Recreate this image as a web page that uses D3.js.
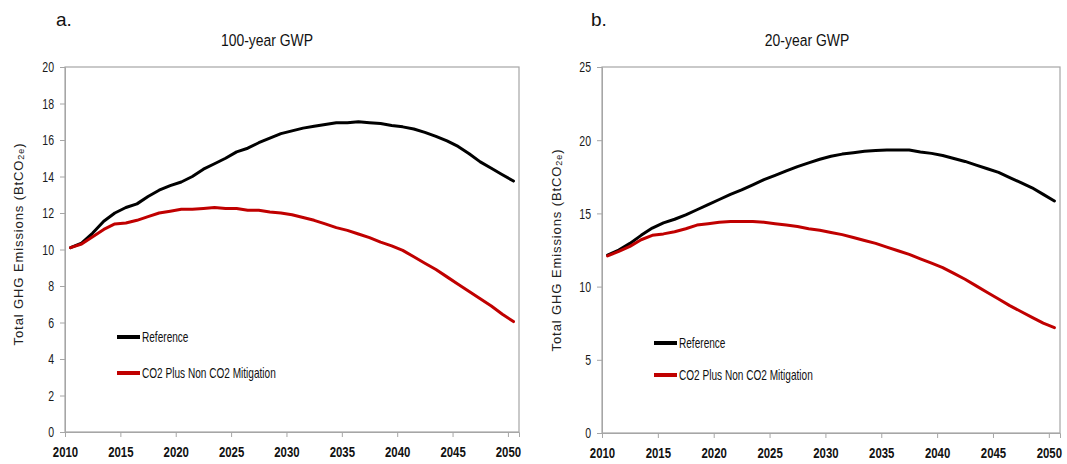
<!DOCTYPE html>
<html>
<head>
<meta charset="utf-8">
<script src="https://cdn.jsdelivr.net/npm/d3@7"></script>
<style>
  body { margin: 0; background: #fff; }
  svg { display: block; }
  text { font-family: "Liberation Sans", Arial, sans-serif; }
</style>
</head>
<body>
<script>
const W = 1067, H = 464

// years 2010..2050
const years = d3.range(2010, 2051)

// panel a: 100-year GWP
const refA = [10.1, 10.35, 10.9, 11.55, 12.0, 12.3, 12.5, 12.9, 13.25, 13.5,
  13.7, 14.0, 14.4, 14.7, 15.0, 15.35, 15.55, 15.85, 16.1, 16.35,
  16.5, 16.65, 16.75, 16.85, 16.95, 16.95, 17.0, 16.95, 16.9, 16.8,
  16.72, 16.6, 16.42, 16.2, 15.95, 15.65, 15.25, 14.8, 14.45, 14.1, 13.75]
const mitA = [10.1, 10.3, 10.7, 11.1, 11.4, 11.45, 11.6, 11.8, 12.0, 12.1,
  12.2, 12.2, 12.25, 12.3, 12.25, 12.25, 12.15, 12.15, 12.05, 12.0,
  11.9, 11.75, 11.6, 11.4, 11.2, 11.05, 10.85, 10.65, 10.4, 10.2,
  9.95, 9.6, 9.25, 8.9, 8.5, 8.1, 7.7, 7.3, 6.9, 6.45, 6.05]

// panel b: 20-year GWP
const refB = [12.15, 12.5, 12.95, 13.5, 14.0, 14.35, 14.6, 14.9, 15.25, 15.6,
  15.95, 16.3, 16.6, 16.95, 17.3, 17.6, 17.9, 18.2, 18.45, 18.7,
  18.9, 19.05, 19.15, 19.25, 19.3, 19.33, 19.33, 19.33, 19.2, 19.1,
  18.95, 18.75, 18.55, 18.3, 18.05, 17.8, 17.45, 17.1, 16.75, 16.3, 15.85]
const mitB = [12.1, 12.4, 12.75, 13.2, 13.5, 13.6, 13.75, 13.95, 14.2, 14.3,
  14.4, 14.45, 14.45, 14.45, 14.4, 14.3, 14.2, 14.1, 13.95, 13.85,
  13.7, 13.55, 13.35, 13.15, 12.95, 12.7, 12.45, 12.2, 11.9, 11.6,
  11.3, 10.9, 10.5, 10.05, 9.6, 9.15, 8.7, 8.3, 7.9, 7.5, 7.2]

const xTicks = [2010, 2015, 2020, 2025, 2030, 2035, 2040, 2045, 2050]
const yTicksA = [0, 2, 4, 6, 8, 10, 12, 14, 16, 18, 20]
const yTicksB = [0, 5, 10, 15, 20, 25]
const seriesNames = ["Reference", "CO2 Plus Non CO2 Mitigation"]
const colors = ["#000000", "#c00000"]

const svg = d3.select("body").append("svg").attr("width", W).attr("height", H)

// squeezed text, the original font is a narrow one
function sqText(g, x, y, sx, txt) {
  return g.append("text")
    .attr("transform", `translate(${x},${y}) scale(${sx},1)`)
    .text(txt)
}

function panel(o) {
  const g = svg.append("g")
  const x = d3.scaleLinear().domain([2010, 2051]).range([o.left, o.right])
  const y = d3.scaleLinear().domain([0, o.ymax]).range([o.bottom, o.top])

  // frame
  g.append("rect")
    .attr("x", o.left).attr("y", o.top)
    .attr("width", o.right - o.left).attr("height", o.bottom - o.top)
    .attr("fill", "none").attr("stroke", "#a6a6a6").attr("stroke-width", 1.2)

  const ya = g.append("g").attr("transform", `translate(${o.left},0)`)
    .call(d3.axisLeft(y).tickValues(o.yTicks).tickSize(5).tickPadding(6))
  ya.select(".domain").attr("stroke", "#a6a6a6")
  ya.selectAll(".tick line").attr("stroke", "#a6a6a6")
  ya.selectAll("text")
    .attr("font-family", "Liberation Sans, Arial, sans-serif")
    .attr("font-size", 15.5).attr("fill", "#1a1a1a")
    .attr("x", -11 / 0.68).attr("transform", "scale(0.68,1)")

  const xa = g.append("g").attr("transform", `translate(0,${o.bottom})`)
    .call(d3.axisBottom(x).tickValues(xTicks).tickFormat(d3.format("d")).tickSize(5).tickPadding(9))
  xa.select(".domain").attr("stroke", "#a6a6a6")
  xa.selectAll(".tick line").attr("stroke", "#a6a6a6")
  xa.selectAll("text")
    .attr("font-family", "Liberation Sans, Arial, sans-serif")
    .attr("font-size", 15).attr("font-weight", "bold").attr("fill", "#111")
    .attr("transform", "scale(0.76,1)")

  const line = d3.line().x((d, i) => x(years[i] + 0.5)).y(d => y(d))
  ;[o.ref, o.mit].forEach((s, k) => {
    g.append("path").datum(s)
      .attr("d", line)
      .attr("fill", "none").attr("stroke", colors[k])
      .attr("stroke-width", 3).attr("stroke-linejoin", "round").attr("stroke-linecap", "round")
  })

  // legend
  seriesNames.forEach((n, k) => {
    const ly = o.legY[k]
    g.append("line").attr("x1", o.legX).attr("x2", o.legX + 23)
      .attr("y1", ly).attr("y2", ly)
      .attr("stroke", colors[k]).attr("stroke-width", 4)
    sqText(g, o.legX + 25, ly + 5, 0.72, n)
      .attr("font-size", 14).attr("fill", "#111")
  })

  // panel letter + title
  g.append("text").attr("x", o.letterX).attr("y", 26)
    .attr("font-size", 19).attr("fill", "#111")
    .text(o.letter)
  sqText(g, (o.left + o.right) / 2 + o.titleDx, 46, 0.82, o.title)
    .attr("text-anchor", "middle").attr("font-size", 17).attr("fill", "#111")

  // y label
  const yl = g.append("text")
    .attr("transform", `translate(${o.yLabelX},${o.yLabelY}) rotate(-90)`)
    .attr("text-anchor", "middle")
    .attr("font-family", "DejaVu Sans, Verdana, sans-serif")
    .attr("font-size", 13).attr("letter-spacing", 0.9).attr("fill", "#222")
  yl.append("tspan").text("Total GHG Emissions (BtCO")
  yl.append("tspan").attr("font-size", 9).attr("dy", 1).text("2e")
  yl.append("tspan").attr("dy", -1).text(")")
}

panel({
  left: 65, right: 519, top: 67, bottom: 432, ymax: 20, yTicks: yTicksA,
  ref: refA, mit: mitA, legX: 117, legY: [337, 373],
  letter: "a.", letterX: 56, title: "100-year GWP", titleDx: -25,
  yLabelX: 23, yLabelY: 244
})
panel({
  left: 602, right: 1060, top: 67, bottom: 433, ymax: 25, yTicks: yTicksB,
  ref: refB, mit: mitB, legX: 654, legY: [343, 375],
  letter: "b.", letterX: 591, title: "20-year GWP", titleDx: -24,
  yLabelX: 561, yLabelY: 250
})
</script>
</body>
</html>
